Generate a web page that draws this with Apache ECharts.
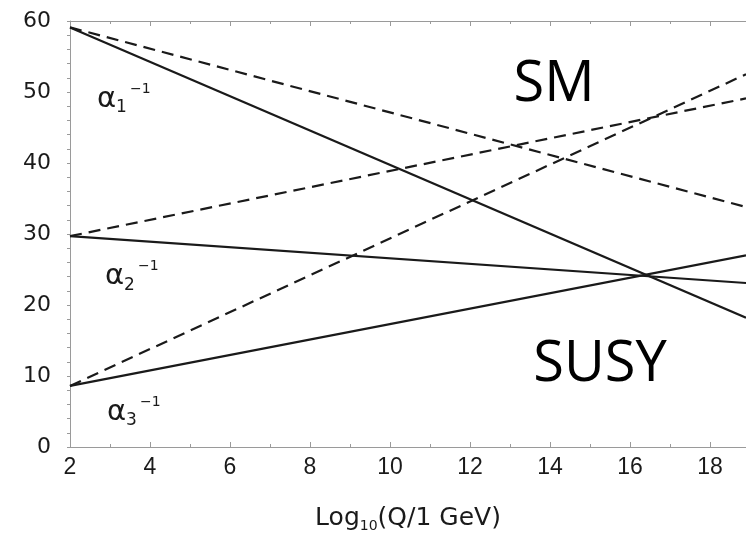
<!DOCTYPE html>
<html>
<head>
<meta charset="utf-8">
<script src="https://cdn.jsdelivr.net/npm/echarts@6/dist/echarts.min.js"></script>
<style>
  html, body { margin: 0; padding: 0; background: #fff; }
  #chart { width: 746px; height: 538px; }
</style>
</head>
<body>
<div id="chart"></div>
<script>
// Running of the inverse gauge couplings, one-loop straight lines in log10(Q)
const xRange = [2, 18.9];           // log10(Q/1 GeV) at both ends of each line
const xTicks = [2, 4, 6, 8, 10, 12, 14, 16, 18];
const yTicks = [0, 10, 20, 30, 40, 50, 60];

// Standard Model (dashed)
const smAlpha1 = [59.1, 33.8];
const smAlpha2 = [29.7, 49.1];
const smAlpha3 = [8.6, 52.5];
// Supersymmetric (solid)
const susyAlpha1 = [59.1, 18.2];
const susyAlpha2 = [29.7, 23.1];
const susyAlpha3 = [8.6, 27.0];

// Curve labels: [x, y, subscript]
const curveLabels = [
  [2.675, 49.0, '1'],
  [2.875, 24.0, '2'],
  [2.925, 4.9, '3']
];
// Model labels: [x, y, text]
const modelLabels = [
  [14.1, 51.0, 'SM'],
  [15.25, 11.6, 'SUSY']
];

const ink = '#1a1a1a';
const axisGray = '#9a9a9a';

function linePoints(vals) {
  return vals.map((v, i) => [xRange[i], v]);
}
function lineSeries(name, vals, dashed) {
  return {
    name: name,
    type: 'line',
    data: linePoints(vals),
    symbol: 'none',
    silent: true,
    lineStyle: { color: ink, width: 2.2, type: dashed ? [12, 7] : 'solid' },
    z: 3
  };
}

const chart = echarts.init(document.getElementById('chart'), null, { renderer: 'canvas' });

chart.setOption({
  backgroundColor: '#fff',
  animation: false,
  grid: { left: 70, right: 0, top: 21, bottom: 71, containLabel: false },
  xAxis: [
    {
      type: 'value',
      min: xRange[0],
      max: xRange[1],
      interval: 2,
      name: '{a|Log}{s|10}{a|(Q/1 GeV)}',
      nameLocation: 'middle',
      nameGap: 56,
      nameTextStyle: {
        rich: {
          a: { fontFamily: 'DejaVu Sans', fontSize: 25, color: ink, lineHeight: 30 },
          s: { fontFamily: 'DejaVu Sans', fontSize: 14, color: ink, lineHeight: 12, verticalAlign: 'bottom' }
        }
      },
      axisLine: { show: true, lineStyle: { color: axisGray, width: 1 } },
      axisTick: { show: true, inside: true, length: 5, lineStyle: { color: axisGray } },
      minorTick: { show: true, splitNumber: 2, length: 3, lineStyle: { color: axisGray } },
      splitLine: { show: false },
      axisLabel: {
        margin: 9,
        fontFamily: 'Liberation Sans',
        fontSize: 23,
        color: ink,
        showMaxLabel: false,
        formatter: v => (xTicks.indexOf(v) >= 0 ? String(v) : '')
      }
    },
    {
      type: 'value',
      position: 'top',
      min: xRange[0],
      max: xRange[1],
      interval: 2,
      axisLine: { show: true, lineStyle: { color: axisGray, width: 1 } },
      axisTick: { show: true, inside: true, length: 5, lineStyle: { color: axisGray } },
      minorTick: { show: true, splitNumber: 2, length: 3, lineStyle: { color: axisGray } },
      splitLine: { show: false },
      axisLabel: { show: false }
    }
  ],
  yAxis: {
    type: 'value',
    min: 0,
    max: 60,
    interval: 10,
    axisLine: { show: true, lineStyle: { color: axisGray, width: 1 } },
    axisTick: { show: true, inside: false, length: 3, lineStyle: { color: axisGray } },
    minorTick: { show: true, splitNumber: 5, length: 3, lineStyle: { color: axisGray } },
    splitLine: { show: false },
    axisLabel: {
      margin: 19,
      fontFamily: 'DejaVu Sans',
      fontSize: 22,
      color: ink,
      formatter: v => (yTicks.indexOf(v) >= 0 ? String(v) : '')
    }
  },
  series: [
    lineSeries('SM α1', smAlpha1, true),
    lineSeries('SM α2', smAlpha2, true),
    lineSeries('SM α3', smAlpha3, true),
    lineSeries('SUSY α1', susyAlpha1, false),
    lineSeries('SUSY α2', susyAlpha2, false),
    lineSeries('SUSY α3', susyAlpha3, false),
    {
      name: 'curve labels',
      type: 'scatter',
      symbolSize: 0,
      silent: true,
      itemStyle: { opacity: 1 },
      data: curveLabels.map(d => ({ value: [d[0], d[1]], sub: d[2] })),
      label: {
        show: true,
        position: 'right',
        distance: 0,
        formatter: p => '{a|α}{s|' + p.data.sub + '}{p|−1}',
        rich: {
          a: { fontFamily: 'DejaVu Sans', fontSize: 29, color: ink, lineHeight: 34 },
          s: { fontFamily: 'DejaVu Sans', fontSize: 17, color: ink, lineHeight: 16, verticalAlign: 'bottom' },
          p: { fontFamily: 'DejaVu Sans', fontSize: 14, color: ink, lineHeight: 12, verticalAlign: 'top', padding: [0, 0, 0, 3] }
        }
      },
      z: 5
    },
    {
      name: 'model labels',
      type: 'scatter',
      symbolSize: 0,
      silent: true,
      itemStyle: { opacity: 1 },
      data: modelLabels.map(d => ({ value: [d[0], d[1]], text: d[2] })),
      label: {
        show: true,
        position: 'inside',
        formatter: p => p.data.text,
        fontFamily: 'Open Sans',
        fontSize: 56,
        color: '#000'
      },
      z: 5
    }
  ]
});
</script>
</body>
</html>
